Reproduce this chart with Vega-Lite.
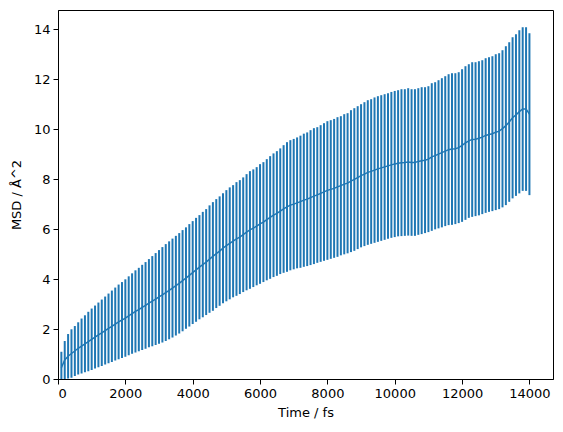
{
  "$schema": "https://vega.github.io/schema/vega-lite/v6.json",
  "width": 495,
  "height": 369,
  "autosize": {"type": "none"},
  "padding": {"left": 58, "top": 10, "right": 10, "bottom": 53},
  "background": "white",
  "config": {
    "view": {"stroke": "black", "strokeWidth": 1},
    "axis": {
      "labelFont": "DejaVu Sans", "labelFontSize": 13, "labelColor": "black",
      "titleFont": "DejaVu Sans", "titleFontSize": 13, "titleFontWeight": "normal", "titleColor": "black",
      "tickColor": "black", "tickSize": 5, "tickWidth": 1, "domainColor": "black", "domainWidth": 1,
      "grid": false, "labelPadding": 3
    }
  },
  "data": {"values": [
    {"t":100,"m":0.45,"lo":-0.19,"hi":1.09},
    {"t":200,"m":0.76,"lo":0.00,"hi":1.52},
    {"t":300,"m":0.91,"lo":0.02,"hi":1.80},
    {"t":400,"m":1.02,"lo":0.05,"hi":1.99},
    {"t":500,"m":1.12,"lo":0.12,"hi":2.12},
    {"t":600,"m":1.23,"lo":0.18,"hi":2.27},
    {"t":700,"m":1.32,"lo":0.22,"hi":2.42},
    {"t":800,"m":1.41,"lo":0.27,"hi":2.55},
    {"t":900,"m":1.50,"lo":0.31,"hi":2.69},
    {"t":1000,"m":1.59,"lo":0.36,"hi":2.82},
    {"t":1100,"m":1.68,"lo":0.42,"hi":2.94},
    {"t":1200,"m":1.77,"lo":0.47,"hi":3.06},
    {"t":1300,"m":1.85,"lo":0.52,"hi":3.18},
    {"t":1400,"m":1.94,"lo":0.58,"hi":3.30},
    {"t":1500,"m":2.03,"lo":0.63,"hi":3.42},
    {"t":1600,"m":2.11,"lo":0.68,"hi":3.54},
    {"t":1700,"m":2.20,"lo":0.74,"hi":3.66},
    {"t":1800,"m":2.29,"lo":0.79,"hi":3.78},
    {"t":1900,"m":2.36,"lo":0.84,"hi":3.88},
    {"t":2000,"m":2.44,"lo":0.89,"hi":3.99},
    {"t":2100,"m":2.53,"lo":0.95,"hi":4.11},
    {"t":2200,"m":2.62,"lo":1.01,"hi":4.23},
    {"t":2300,"m":2.71,"lo":1.06,"hi":4.35},
    {"t":2400,"m":2.78,"lo":1.11,"hi":4.45},
    {"t":2500,"m":2.87,"lo":1.16,"hi":4.57},
    {"t":2600,"m":2.95,"lo":1.21,"hi":4.68},
    {"t":2700,"m":3.04,"lo":1.27,"hi":4.80},
    {"t":2800,"m":3.12,"lo":1.31,"hi":4.92},
    {"t":2900,"m":3.20,"lo":1.36,"hi":5.04},
    {"t":3000,"m":3.29,"lo":1.41,"hi":5.16},
    {"t":3100,"m":3.37,"lo":1.46,"hi":5.28},
    {"t":3200,"m":3.46,"lo":1.52,"hi":5.40},
    {"t":3300,"m":3.55,"lo":1.59,"hi":5.51},
    {"t":3400,"m":3.64,"lo":1.66,"hi":5.62},
    {"t":3500,"m":3.74,"lo":1.74,"hi":5.73},
    {"t":3600,"m":3.83,"lo":1.82,"hi":5.84},
    {"t":3700,"m":3.94,"lo":1.91,"hi":5.96},
    {"t":3800,"m":4.04,"lo":2.01,"hi":6.07},
    {"t":3900,"m":4.15,"lo":2.10,"hi":6.20},
    {"t":4000,"m":4.26,"lo":2.20,"hi":6.32},
    {"t":4100,"m":4.37,"lo":2.29,"hi":6.45},
    {"t":4200,"m":4.48,"lo":2.39,"hi":6.56},
    {"t":4300,"m":4.58,"lo":2.47,"hi":6.69},
    {"t":4400,"m":4.68,"lo":2.56,"hi":6.80},
    {"t":4500,"m":4.80,"lo":2.65,"hi":6.95},
    {"t":4600,"m":4.91,"lo":2.73,"hi":7.08},
    {"t":4700,"m":5.02,"lo":2.84,"hi":7.20},
    {"t":4800,"m":5.12,"lo":2.93,"hi":7.31},
    {"t":4900,"m":5.24,"lo":3.03,"hi":7.44},
    {"t":5000,"m":5.34,"lo":3.11,"hi":7.56},
    {"t":5100,"m":5.43,"lo":3.19,"hi":7.67},
    {"t":5200,"m":5.52,"lo":3.27,"hi":7.76},
    {"t":5300,"m":5.61,"lo":3.33,"hi":7.88},
    {"t":5400,"m":5.68,"lo":3.40,"hi":7.96},
    {"t":5500,"m":5.78,"lo":3.48,"hi":8.07},
    {"t":5600,"m":5.88,"lo":3.55,"hi":8.20},
    {"t":5700,"m":5.97,"lo":3.61,"hi":8.32},
    {"t":5800,"m":6.04,"lo":3.68,"hi":8.39},
    {"t":5900,"m":6.12,"lo":3.75,"hi":8.48},
    {"t":6000,"m":6.21,"lo":3.81,"hi":8.60},
    {"t":6100,"m":6.28,"lo":3.88,"hi":8.68},
    {"t":6200,"m":6.38,"lo":3.95,"hi":8.80},
    {"t":6300,"m":6.47,"lo":4.01,"hi":8.92},
    {"t":6400,"m":6.56,"lo":4.08,"hi":9.03},
    {"t":6500,"m":6.63,"lo":4.13,"hi":9.12},
    {"t":6600,"m":6.72,"lo":4.20,"hi":9.23},
    {"t":6700,"m":6.81,"lo":4.25,"hi":9.36},
    {"t":6800,"m":6.89,"lo":4.29,"hi":9.48},
    {"t":6900,"m":6.96,"lo":4.35,"hi":9.56},
    {"t":7000,"m":7.00,"lo":4.39,"hi":9.61},
    {"t":7100,"m":7.05,"lo":4.43,"hi":9.67},
    {"t":7200,"m":7.10,"lo":4.45,"hi":9.74},
    {"t":7300,"m":7.16,"lo":4.49,"hi":9.82},
    {"t":7400,"m":7.20,"lo":4.52,"hi":9.87},
    {"t":7500,"m":7.26,"lo":4.56,"hi":9.96},
    {"t":7600,"m":7.32,"lo":4.60,"hi":10.04},
    {"t":7700,"m":7.37,"lo":4.65,"hi":10.08},
    {"t":7800,"m":7.43,"lo":4.69,"hi":10.16},
    {"t":7900,"m":7.49,"lo":4.73,"hi":10.24},
    {"t":8000,"m":7.55,"lo":4.77,"hi":10.32},
    {"t":8100,"m":7.59,"lo":4.81,"hi":10.36},
    {"t":8200,"m":7.63,"lo":4.85,"hi":10.41},
    {"t":8300,"m":7.69,"lo":4.89,"hi":10.48},
    {"t":8400,"m":7.74,"lo":4.95,"hi":10.52},
    {"t":8500,"m":7.80,"lo":4.99,"hi":10.60},
    {"t":8600,"m":7.84,"lo":5.03,"hi":10.64},
    {"t":8700,"m":7.92,"lo":5.08,"hi":10.76},
    {"t":8800,"m":7.99,"lo":5.13,"hi":10.84},
    {"t":8900,"m":8.06,"lo":5.20,"hi":10.92},
    {"t":9000,"m":8.14,"lo":5.27,"hi":11.00},
    {"t":9100,"m":8.20,"lo":5.32,"hi":11.08},
    {"t":9200,"m":8.27,"lo":5.37,"hi":11.16},
    {"t":9300,"m":8.31,"lo":5.41,"hi":11.20},
    {"t":9400,"m":8.36,"lo":5.45,"hi":11.27},
    {"t":9500,"m":8.41,"lo":5.49,"hi":11.32},
    {"t":9600,"m":8.45,"lo":5.53,"hi":11.36},
    {"t":9700,"m":8.49,"lo":5.57,"hi":11.40},
    {"t":9800,"m":8.53,"lo":5.61,"hi":11.44},
    {"t":9900,"m":8.57,"lo":5.65,"hi":11.49},
    {"t":10000,"m":8.61,"lo":5.68,"hi":11.53},
    {"t":10100,"m":8.64,"lo":5.71,"hi":11.56},
    {"t":10200,"m":8.66,"lo":5.72,"hi":11.60},
    {"t":10300,"m":8.67,"lo":5.73,"hi":11.60},
    {"t":10400,"m":8.69,"lo":5.74,"hi":11.64},
    {"t":10500,"m":8.67,"lo":5.73,"hi":11.60},
    {"t":10600,"m":8.67,"lo":5.73,"hi":11.60},
    {"t":10700,"m":8.71,"lo":5.77,"hi":11.64},
    {"t":10800,"m":8.74,"lo":5.80,"hi":11.68},
    {"t":10900,"m":8.76,"lo":5.84,"hi":11.68},
    {"t":11000,"m":8.80,"lo":5.88,"hi":11.72},
    {"t":11100,"m":8.89,"lo":5.93,"hi":11.84},
    {"t":11200,"m":8.94,"lo":5.99,"hi":11.88},
    {"t":11300,"m":9.00,"lo":6.03,"hi":11.96},
    {"t":11400,"m":9.06,"lo":6.07,"hi":12.04},
    {"t":11500,"m":9.12,"lo":6.12,"hi":12.12},
    {"t":11600,"m":9.18,"lo":6.16,"hi":12.20},
    {"t":11700,"m":9.21,"lo":6.17,"hi":12.24},
    {"t":11800,"m":9.22,"lo":6.20,"hi":12.24},
    {"t":11900,"m":9.26,"lo":6.24,"hi":12.28},
    {"t":12000,"m":9.35,"lo":6.29,"hi":12.40},
    {"t":12100,"m":9.45,"lo":6.37,"hi":12.52},
    {"t":12200,"m":9.53,"lo":6.45,"hi":12.60},
    {"t":12300,"m":9.59,"lo":6.49,"hi":12.68},
    {"t":12400,"m":9.60,"lo":6.52,"hi":12.68},
    {"t":12500,"m":9.64,"lo":6.55,"hi":12.72},
    {"t":12600,"m":9.68,"lo":6.60,"hi":12.76},
    {"t":12700,"m":9.75,"lo":6.65,"hi":12.84},
    {"t":12800,"m":9.79,"lo":6.69,"hi":12.88},
    {"t":12900,"m":9.82,"lo":6.72,"hi":12.92},
    {"t":13000,"m":9.88,"lo":6.76,"hi":13.00},
    {"t":13100,"m":9.92,"lo":6.80,"hi":13.04},
    {"t":13200,"m":10.02,"lo":6.87,"hi":13.16},
    {"t":13300,"m":10.14,"lo":6.96,"hi":13.32},
    {"t":13400,"m":10.29,"lo":7.09,"hi":13.48},
    {"t":13500,"m":10.46,"lo":7.23,"hi":13.68},
    {"t":13600,"m":10.57,"lo":7.33,"hi":13.80},
    {"t":13700,"m":10.70,"lo":7.43,"hi":13.96},
    {"t":13800,"m":10.81,"lo":7.53,"hi":14.08},
    {"t":13900,"m":10.81,"lo":7.53,"hi":14.08},
    {"t":14000,"m":10.60,"lo":7.36,"hi":13.84}
  ]},
  "encoding": {
    "x": {"field": "t", "type": "quantitative",
      "scale": {"domain": [0, 14700], "nice": false, "zero": false},
      "axis": {"title": "Time / fs", "values": [0,2000,4000,6000,8000,10000,12000,14000], "format": "d", "titlePadding": 6}}
  },
  "layer": [
    {
      "mark": {"type": "rule", "color": "#1f77b4", "strokeWidth": 2, "clip": true},
      "encoding": {
        "y": {"field": "lo", "type": "quantitative",
          "scale": {"domain": [0, 14.77], "nice": false, "zero": false},
          "axis": {"title": "MSD / Å^2", "values": [0,2,4,6,8,10,12,14], "titlePadding": 10}},
        "y2": {"field": "hi"}
      }
    },
    {
      "mark": {"type": "line", "color": "#1f77b4", "strokeWidth": 1.5, "clip": true},
      "encoding": {
        "y": {"field": "m", "type": "quantitative"}
      }
    }
  ]
}
